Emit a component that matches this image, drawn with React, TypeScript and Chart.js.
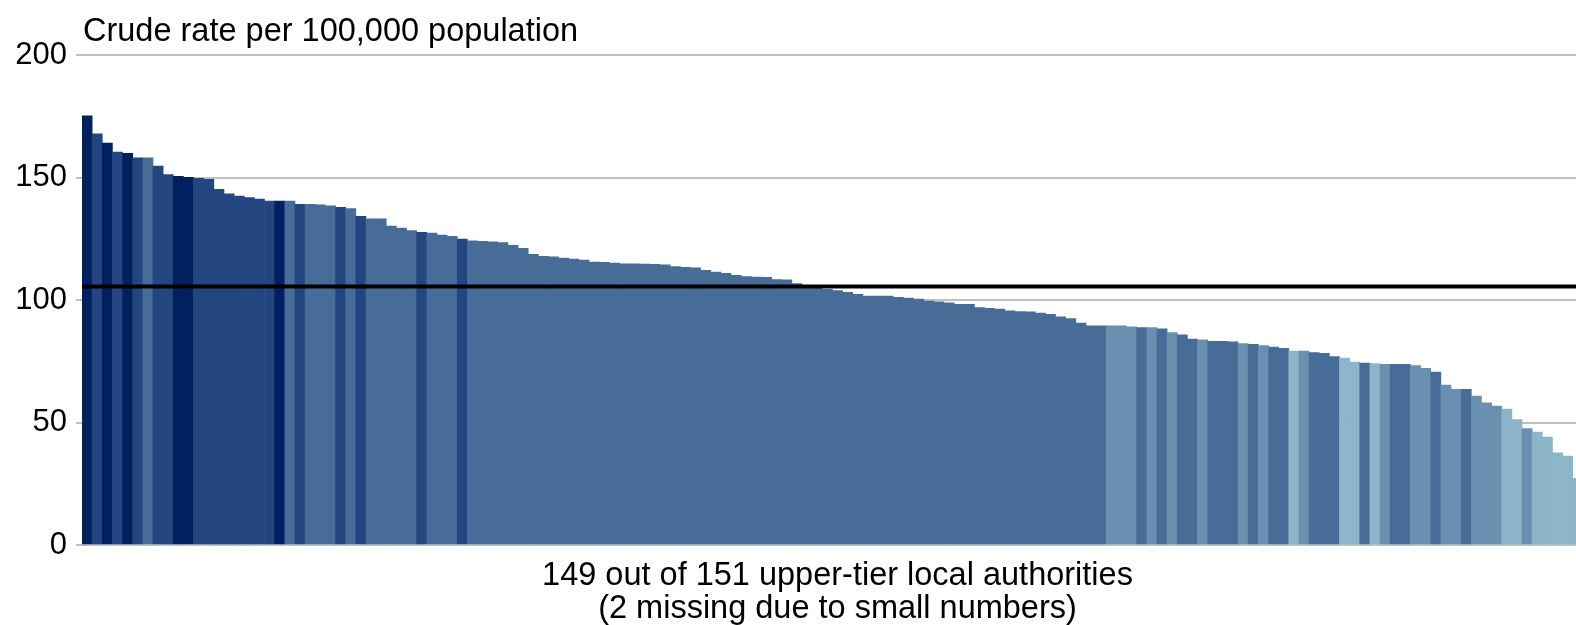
import React, { useEffect, useRef } from 'react';
import { Chart, registerables } from 'chart.js';

Chart.register(...registerables);

// Crude rate per 100,000 population for each upper-tier local authority (sorted)
const rates: number[] = [
  175.2, 167.8, 164.0, 160.4, 159.9, 158.0, 158.0, 154.7, 151.2, 150.5,
  150.1, 149.7, 149.3, 145.2, 143.3, 142.4, 141.8, 141.2, 140.4, 140.4,
  140.4, 139.1, 139.1, 138.8, 138.4, 137.8, 137.3, 134.2, 133.1, 133.1,
  130.2, 129.4, 128.3, 127.6, 127.3, 126.5, 126.0, 124.9, 124.2, 123.9,
  123.7, 123.4, 122.3, 121.1, 118.6, 117.8, 117.6, 117.1, 116.7, 116.3,
  115.5, 115.4, 115.1, 114.8, 114.8, 114.7, 114.6, 114.4, 113.6, 113.3,
  113.1, 112.1, 111.4, 110.9, 110.1, 109.6, 109.4, 109.3, 108.3, 108.2,
  106.7, 105.7, 105.6, 104.4, 103.8, 103.1, 102.3, 101.6, 101.6, 101.6,
  101.1, 100.8, 100.4, 99.6, 99.3, 98.8, 98.2, 98.2, 96.9, 96.6,
  96.3, 95.6, 95.3, 95.2, 94.7, 94.2, 93.1, 92.4, 90.6, 89.5,
  89.5, 89.5, 89.5, 89.1, 88.7, 88.7, 88.2, 86.7, 85.8, 84.1,
  83.7, 83.1, 83.1, 82.9, 82.2, 81.9, 81.4, 80.8, 80.3, 79.2,
  79.2, 78.5, 78.2, 76.9, 76.3, 74.7, 74.3, 74.0, 73.7, 73.7,
  73.7, 73.2, 72.1, 70.6, 65.3, 63.5, 63.5, 60.8, 58.0, 56.7,
  55.5, 51.2, 47.5, 46.1, 44.0, 37.6, 36.3, 27.2, 24.0,
];

// Shade group of each bar (0 = darkest ... 4 = lightest)
const groups: number[] = [
  0, 1, 0, 1, 0, 1, 2, 1, 1, 0,
  0, 1, 1, 1, 1, 1, 1, 1, 1, 0,
  2, 1, 2, 2, 2, 1, 2, 1, 2, 2,
  2, 2, 2, 1, 2, 2, 2, 1, 2, 2,
  2, 2, 2, 2, 2, 2, 2, 2, 2, 2,
  2, 2, 2, 2, 2, 2, 2, 2, 2, 2,
  2, 2, 2, 2, 2, 2, 2, 2, 2, 2,
  2, 2, 2, 2, 2, 2, 2, 2, 2, 2,
  2, 2, 2, 2, 2, 2, 2, 2, 2, 2,
  2, 2, 2, 2, 2, 2, 2, 2, 2, 2,
  2, 3, 3, 3, 2, 3, 2, 3, 2, 2,
  3, 2, 2, 2, 3, 2, 3, 2, 2, 4,
  3, 2, 2, 2, 4, 4, 2, 4, 3, 2,
  2, 3, 3, 2, 3, 3, 2, 3, 3, 3,
  4, 4, 3, 4, 4, 4, 4, 4, 4,
];

const groupColours: string[] = ['#002060', '#244680', '#476c97', '#6990b0', '#8cb5c9'];

const englandRate = 105.5;
const yTickValues: number[] = [0, 50, 100, 150, 200];
const yAxisTitle = 'Crude rate per 100,000 population';
const xAxisTitle: string[] = [
  '149 out of 151 upper-tier local authorities',
  '(2 missing due to small numbers)',
];
const areaLabels: string[] = rates.map((_, i) => `Local authority ${i + 1}`);

const FONT = "'Liberation Sans', Arial, sans-serif";

const referenceLinePlugin = {
  id: 'referenceLine',
  afterDatasetsDraw(chart: any) {
    const { ctx, chartArea, scales } = chart;
    const y = scales.y.getPixelForValue(englandRate);
    ctx.save();
    ctx.strokeStyle = '#000000';
    ctx.lineWidth = 4;
    ctx.beginPath();
    ctx.moveTo(chartArea.left, y);
    ctx.lineTo(chartArea.right, y);
    ctx.stroke();
    ctx.restore();
  },
};

const yTitlePlugin = {
  id: 'yTitle',
  afterDraw(chart: any) {
    const { ctx, chartArea } = chart;
    ctx.save();
    ctx.fillStyle = '#000000';
    ctx.font = `32.5px ${FONT}`;
    ctx.textAlign = 'left';
    ctx.textBaseline = 'alphabetic';
    ctx.fillText(yAxisTitle, chartArea.left + 1, 41);
    ctx.restore();
  },
};

export default function App() {
  const canvasRef = useRef<HTMLCanvasElement | null>(null);

  useEffect(() => {
    if (!canvasRef.current) return;
    Chart.defaults.font.family = FONT;
    const chart = new Chart(canvasRef.current, {
      type: 'bar',
      data: {
        labels: areaLabels,
        datasets: [
          {
            label: 'Crude rate',
            data: rates,
            backgroundColor: groups.map((g) => groupColours[g]),
            borderWidth: 0,
            barPercentage: 1,
            categoryPercentage: 1,
          },
        ],
      },
      options: {
        animation: false,
        responsive: false,
        devicePixelRatio: 1,
        events: [],
        layout: { padding: { top: 55, left: 0, right: 0, bottom: 0 } },
        plugins: {
          legend: { display: false },
          tooltip: { enabled: false },
          title: { display: false },
        },
        scales: {
          x: {
            type: 'category',
            offset: true,
            ticks: { display: false },
            grid: { display: false, drawTicks: false },
            border: { display: false },
            title: {
              display: true,
              text: xAxisTitle,
              color: '#000000',
              font: { size: 32.5, family: FONT, lineHeight: 1 },
              padding: { top: 15, bottom: 0 },
            },
          },
          y: {
            min: 0,
            max: 200,
            afterBuildTicks: (scale: any) => {
              scale.ticks = yTickValues.map((v) => ({ value: v }));
            },
            afterFit: (scale: any) => {
              scale.width = 82;
            },
            ticks: {
              color: '#000000',
              font: { size: 31, family: FONT },
              padding: 9,
            },
            grid: {
              color: '#c0c0c0',
              lineWidth: 2,
              tickLength: 6,
              drawTicks: true,
            },
            border: { display: false },
          },
        },
      },
      plugins: [referenceLinePlugin, yTitlePlugin],
    });
    return () => chart.destroy();
  }, []);

  return (
    <div
      style={{
        position: 'absolute',
        left: 0,
        top: 0,
        width: 1576,
        height: 625,
        overflow: 'hidden',
        background: '#ffffff',
      }}
    >
      <canvas
        ref={canvasRef}
        width={1593}
        height={625}
        style={{ display: 'block', width: 1593, height: 625 }}
      />
    </div>
  );
}
